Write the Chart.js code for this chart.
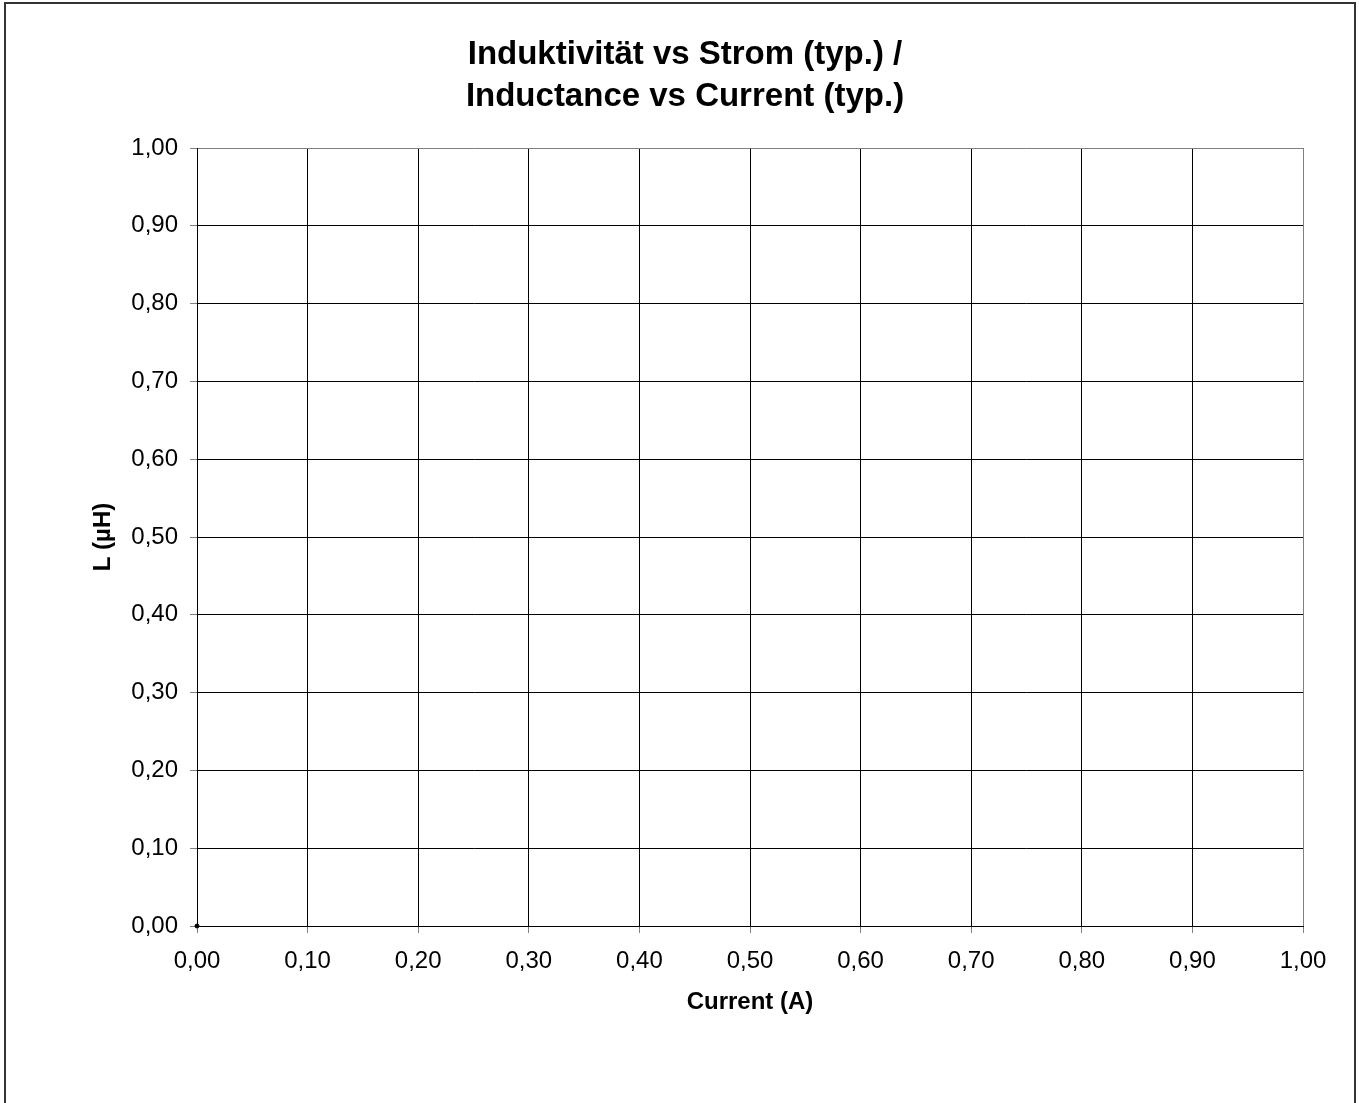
<!DOCTYPE html>
<html>
<head>
<meta charset="utf-8">
<script src="https://cdn.jsdelivr.net/npm/chart.js@4"></script>
<style>
  html, body { margin: 0; padding: 0; background: #fff; overflow: hidden; }
  canvas { display: block; }
</style>
</head>
<body>
<canvas id="lChart" width="1359" height="1103" style="width:1359px;height:1103px"></canvas>
<script>
// data (only the origin point is drawn)
const currents = [0.0];
const inductances = [0.0];

const xTickLabels = ['0,00', '0,10', '0,20', '0,30', '0,40', '0,50', '0,60', '0,70', '0,80', '0,90', '1,00'];
const yTickLabels = ['0,00', '0,10', '0,20', '0,30', '0,40', '0,50', '0,60', '0,70', '0,80', '0,90', '1,00'];

const titleLines = ['Induktivität vs Strom (typ.) /', 'Inductance vs Current (typ.)'];

const FONT = '"Liberation Sans", Arial, sans-serif';

// frame round the whole chart + two line title
const framePlugin = {
    id: 'frame',
    beforeDraw(chart) {
        const c = chart.ctx;
        c.save();
        c.fillStyle = '#fff';
        c.fillRect(0, 0, chart.width, chart.height);
        c.strokeStyle = '#333';
        c.lineWidth = 2;
        c.strokeRect(5, 3, chart.width - 9, chart.height + 20);
        c.restore();
    },
    afterDraw(chart) {
        const c = chart.ctx;
        c.save();
        c.fillStyle = '#000';
        c.font = 'bold 33px ' + FONT;
        c.textAlign = 'center';
        c.textBaseline = 'alphabetic';
        titleLines.forEach((t, i) => c.fillText(t, 685, 64 + i * 42));
        c.restore();
    }
};

const gridColor = (ctx) => ctx.index === 10 ? '#808080' : '#000';

const chart = new Chart(document.getElementById('lChart'), {
    type: 'scatter',
    data: {
        datasets: [{
            label: 'L',
            data: currents.map((x, i) => ({ x: x, y: inductances[i] })),
            borderColor: '#000',
            backgroundColor: '#000',
            pointRadius: 2,
            showLine: true,
            clip: false
        }]
    },
    plugins: [framePlugin],
    options: {
        responsive: false,
        devicePixelRatio: 1,
        animation: false,
        layout: { padding: { top: 148, left: 0, right: 56, bottom: 0 } },
        plugins: {
            legend: { display: false },
            title: { display: false },
            tooltip: { enabled: false }
        },
        scales: {
            x: {
                type: 'linear',
                min: 0,
                max: 1,
                afterFit(scale) { scale.height = 177; },
                ticks: {
                    stepSize: 0.1,
                    padding: 14,
                    color: '#000',
                    font: { family: FONT, size: 24 },
                    maxRotation: 0,
                    callback: (v, i) => xTickLabels[i]
                },
                grid: { color: gridColor, tickColor: '#808080', tickLength: 7, lineWidth: 1 },
                border: { display: true, color: '#000' },
                title: {
                    display: true,
                    text: 'Current (A)',
                    color: '#000',
                    font: { family: FONT, size: 24, weight: 'bold' },
                    padding: { top: 0, bottom: 86 }
                }
            },
            y: {
                type: 'linear',
                min: 0,
                max: 1,
                afterFit(scale) { scale.width = 197; },
                ticks: {
                    stepSize: 0.1,
                    padding: 12,
                    color: '#000',
                    font: { family: FONT, size: 24 },
                    callback: (v, i) => yTickLabels[i]
                },
                grid: { color: gridColor, tickColor: '#808080', tickLength: 7, lineWidth: 1 },
                border: { display: true, color: '#000' },
                title: {
                    display: true,
                    text: 'L (µH)',
                    color: '#000',
                    font: { family: FONT, size: 24, weight: 'bold' },
                    padding: { top: 89, bottom: 0 }
                }
            }
        }
    }
});
</script>
</body>
</html>
